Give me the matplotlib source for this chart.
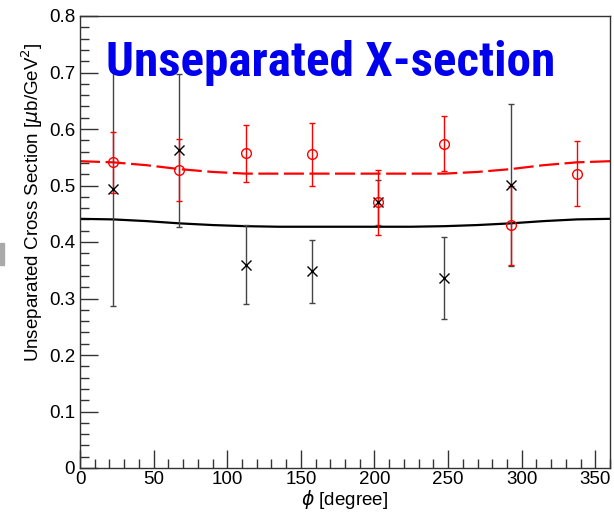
import matplotlib
matplotlib.use("Agg")
import matplotlib.pyplot as plt
from matplotlib.ticker import MultipleLocator, FixedLocator
from matplotlib.patches import Rectangle
from matplotlib import font_manager

# ---- data ----
phi_black = [22.5, 67.5, 112.5, 157.5, 202.5, 247.5, 292.5]
xs_black = [0.494, 0.562, 0.360, 0.348, 0.470, 0.336, 0.501]
err_black = [0.208, 0.135, 0.070, 0.056, 0.040, 0.073, 0.143]

phi_red = [22.5, 67.5, 112.5, 157.5, 202.5, 247.5, 292.5, 337.5]
xs_red = [0.541, 0.527, 0.557, 0.555, 0.470, 0.574, 0.430, 0.521]
err_red = [0.054, 0.055, 0.050, 0.056, 0.057, 0.049, 0.070, 0.057]

phi_curve = [0, 22.5, 45, 67.5, 90, 112.5, 135, 157.5, 180, 202.5, 225, 247.5, 270, 292.5, 315, 337.5, 360]
fit_black = [0.441, 0.440, 0.437, 0.433, 0.430, 0.428, 0.427, 0.427, 0.427, 0.427, 0.427, 0.428, 0.430, 0.433, 0.437, 0.440, 0.441]
fit_red = [0.543, 0.541, 0.536, 0.529, 0.524, 0.521, 0.521, 0.521, 0.521, 0.521, 0.521, 0.521, 0.524, 0.529, 0.536, 0.541, 0.543]

x_ticks = [0, 50, 100, 150, 200, 250, 300, 350]
y_ticks = [0, 0.1, 0.2, 0.3, 0.4, 0.5, 0.6, 0.7, 0.8]
y_tick_labels = ["0", "0.1", "0.2", "0.3", "0.4", "0.5", "0.6", "0.7", "0.8"]

plt.rcParams['font.family'] = ['Liberation Sans', 'DejaVu Sans']
plt.rcParams['mathtext.fontset'] = 'dejavusans'

W, H = 614, 514
fig = plt.figure(figsize=(W / 100, H / 100), dpi=100)
ax = fig.add_axes([80 / W, 46 / H, 530 / W, 452 / H])

ax.plot(phi_curve, fit_black, color='black', lw=1.6, zorder=2)
ax.plot(phi_curve, fit_red, color='#ff0000', lw=1.6, dashes=(9, 2.5), zorder=2)

ax.errorbar(phi_black, xs_black, yerr=err_black, fmt='x', color='black',
            ecolor='#444444', elinewidth=1.0, capsize=2.5, capthick=1.0,
            markersize=7, markeredgewidth=1.0, zorder=3)
ax.errorbar(phi_red, xs_red, yerr=err_red, fmt='o', color='#ff0000',
            mfc='none', mec='#ff0000', ecolor='#ff0000', elinewidth=1.0,
            capsize=2.5, capthick=1.0, markersize=7, markeredgewidth=1.0, zorder=3)

ax.set_xlim(0, 360)
ax.set_ylim(0, 0.8)
ax.xaxis.set_major_locator(FixedLocator(x_ticks))
ax.xaxis.set_minor_locator(MultipleLocator(10))
ax.yaxis.set_major_locator(FixedLocator(y_ticks))
ax.set_yticklabels(y_tick_labels)
ax.yaxis.set_minor_locator(MultipleLocator(0.02))
ax.tick_params(which='both', direction='in', top=False, right=False,
               labelsize=13.5, color='#333333', width=1.0)
ax.tick_params(which='major', length=13)
ax.tick_params(axis='y', which='major', pad=3.5)
ax.tick_params(axis='x', which='major', pad=2.5)
ax.tick_params(which='minor', length=6.5)
for s in ax.spines.values():
    s.set_color('#333333')
    s.set_linewidth(1.0)

ax.set_xlabel(r'$\phi$ [degree]', fontsize=13.5, labelpad=0)
ax.xaxis.set_label_coords(0.5, -0.045)

fig.text(32 / W, 1 - 42 / H, r'Unseparated Cross Section [$\mu$b/GeV$^2$]',
         rotation=90, fontsize=13.5, ha='center', va='top')

# ---- title: prefer a condensed bold font, fit to the reference width ----
title_prop = None
cands = []
for f in font_manager.fontManager.ttflist:
    fn = f.fname.lower()
    nm = f.name.lower()
    if ('narrow' in fn or 'condensed' in fn or 'narrow' in nm or 'condensed' in nm) and \
            ('bold' in fn or (isinstance(f.weight, int) and f.weight >= 600) or f.weight == 'bold'):
        if 'oblique' in fn or 'italic' in fn or 'extrabold' in fn or 'black' in fn:
            continue
        pri = 9
        if 'liberation' in fn:
            pri = 0
        elif 'roboto' in fn:
            pri = 1
        elif 'opensans' in fn or 'open sans' in nm:
            pri = 2
        elif 'noto' in fn:
            pri = 3
        elif 'dejavu' in fn:
            pri = 4
        cands.append((pri, f.fname))
if cands:
    cands.sort()
    title_prop = font_manager.FontProperties(fname=cands[0][1])
else:
    title_prop = font_manager.FontProperties(family='Liberation Sans', weight='bold')

title = fig.text(106 / W, 1 - 76 / H, 'Unseparated X-section', color='#0000ee',
                 fontproperties=title_prop, fontsize=36, ha='left', va='baseline')
fig.canvas.draw()
bb = title.get_window_extent()
target_w = 450.0
new_size = 36 * target_w / bb.width
new_size = min(new_size, 38)
title.set_fontsize(new_size)

fig.patches.append(Rectangle((0, 1 - 265 / H), 4 / W, 22 / H,
                             transform=fig.transFigure, color='#aaaaaa'))

fig.savefig('out.png', dpi=100)
